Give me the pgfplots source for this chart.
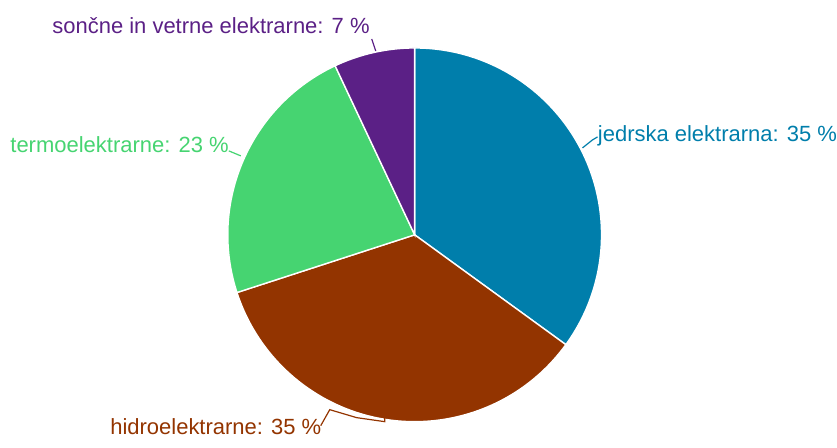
\documentclass[border=0pt]{standalone}
\usepackage{pgfplots}
\pgfplotsset{compat=1.18}
\usepackage{fontspec}
\setmainfont{Liberation Sans}

\definecolor{jedr}{HTML}{007EAB}
\definecolor{hidro}{HTML}{933400}
\definecolor{termo}{HTML}{46D471}
\definecolor{sonc}{HTML}{5B2086}

\tikzset{lbl/.style={anchor=base west, inner sep=0pt, font=\fontsize{11}{13}\selectfont}}

\begin{document}
\begin{tikzpicture}
	% shares in percent, drawn clockwise from the top
	\pgfmathsetmacro\aA{90}
	\pgfmathsetmacro\aB{\aA-35*3.6}
	\pgfmathsetmacro\aC{\aB-35*3.6}
	\pgfmathsetmacro\aD{\aC-23*3.6}
	\pgfmathsetmacro\aE{\aD-7*3.6}
	\begin{axis}[
		hide axis,
		x=0.5pt, y=0.5pt,
		xmin=0, xmax=837,
		ymin=0, ymax=437,
		clip=false,
	]
	\path (axis cs:0,0) rectangle (axis cs:837,437);
	\fill[jedr, draw=white, line width=0.7pt] (axis cs:415,202) -- ++(\aA:93.5pt) arc[start angle=\aA, end angle=\aB, radius=93.5pt] -- cycle;
	\fill[hidro, draw=white, line width=0.7pt] (axis cs:415,202) -- ++(\aB:93.5pt) arc[start angle=\aB, end angle=\aC, radius=93.5pt] -- cycle;
	\fill[termo, draw=white, line width=0.7pt] (axis cs:415,202) -- ++(\aC:93.5pt) arc[start angle=\aC, end angle=\aD, radius=93.5pt] -- cycle;
	\fill[sonc, draw=white, line width=0.7pt] (axis cs:415,202) -- ++(\aD:93.5pt) arc[start angle=\aD, end angle=\aE, radius=93.5pt] -- cycle;

	% labels and leader lines
	\draw[sonc, line width=0.6pt] (axis cs:372,398) -- (axis cs:376,386);
	\node[sonc, lbl] at (axis cs:52,403) {sončne in vetrne elektrarne: 7 \%};
	\draw[jedr, line width=0.6pt] (axis cs:583,289) -- (axis cs:593,297) -- (axis cs:598,300);
	\node[jedr, lbl] at (axis cs:598,295.5) {jedrska elektrarna: 35 \%};
	\draw[termo, line width=0.6pt] (axis cs:229,286) -- (axis cs:241,281);
	\node[termo, lbl] at (axis cs:10,284.5) {termoelektrarne: 23 \%};
	\draw[hidro, line width=0.6pt] (axis cs:321,11) -- (axis cs:330,27) -- (axis cs:357,19) -- (axis cs:385,15) -- (axis cs:385,21);
	\node[hidro, lbl] at (axis cs:110,2) {hidroelektrarne: 35 \%};
	\end{axis}
\end{tikzpicture}
\end{document}
